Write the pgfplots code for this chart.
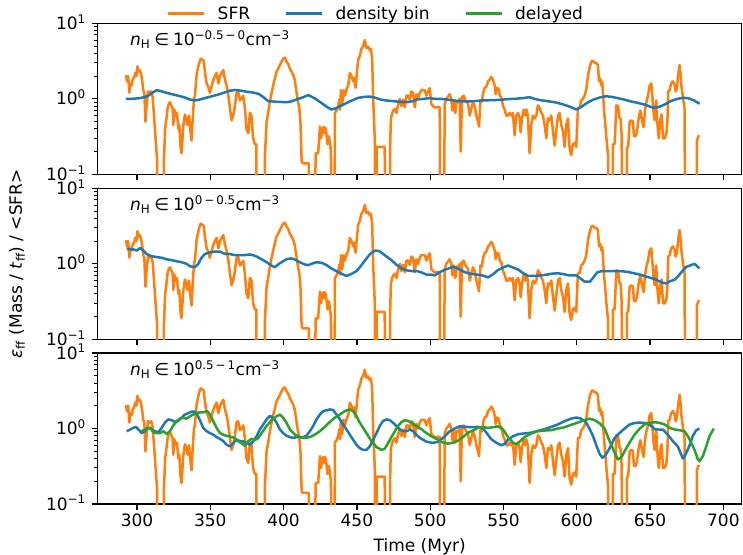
\documentclass[border=0pt]{standalone}
\usepackage{fontspec}
\setmainfont{DejaVu Sans}
\usepackage{pgfplots}
\usepackage{pgfplotstable}
\pgfplotsset{compat=1.18}

\definecolor{cblue}{HTML}{1F77B4}
\definecolor{corange}{HTML}{FF7F0E}
\definecolor{cgreen}{HTML}{2CA02C}

\tikzset{
  sfrline/.style={corange, line width=2.5pt, line join=round},
  denline/.style={cblue, line width=2.5pt, line join=round},
  delline/.style={cgreen, line width=2.5pt, line join=round},
}

% SFR (same curve in every panel); 0.001 stands for the drops below the axis
\pgfplotstableread{
t v
292.5 2.05
293.2 1.7
294.0 2.0
294.8 1.2
295.5 1.6
296.3 1.5
297.1 1.8
298.0 1.9
298.8 2.2
299.6 2.0
300.3 2.7
301.2 2.3
302.0 2.4
302.9 2.1
303.6 1.7
304.3 1.3
305.0 1.2
305.8 0.5
306.5 0.8
307.5 1.25
308.6 1.2
309.8 1.25
310.7 1.05
311.6 0.6
312.9 0.26
313.7 0.16
314.4 0.001
317.9 0.001
318.4 0.16
319.2 0.4
320.2 0.57
320.9 0.75
321.6 0.85
322.5 0.9
323.6 0.8
324.3 0.75
324.8 0.45
325.5 0.72
326.4 0.6
327.3 0.65
328.2 0.4
328.9 0.45
329.7 0.23
330.4 0.19
331.5 0.42
332.7 0.62
333.6 0.55
334.5 0.45
335.5 0.6
336.3 0.4
337.2 0.28
338.0 0.55
338.9 1.0
339.5 1.1
340.7 2.1
342.2 2.9
343.4 3.4
344.5 3.3
345.5 3.2
346.3 2.3
347.5 1.6
348.6 1.45
349.7 1.2
350.8 1.45
352.0 1.75
353.1 2.0
354.3 2.2
355.5 1.6
356.6 2.0
357.7 2.2
358.9 2.4
360.0 1.8
361.1 1.5
362.2 1.15
363.4 0.75
364.5 0.52
365.6 0.6
366.8 0.8
367.9 1.2
369.0 1.25
370.2 0.95
371.3 1.0
372.5 1.1
373.6 0.75
374.7 0.4
375.9 0.35
377.0 0.65
378.1 0.6
379.2 0.3
380.4 0.25
381.5 0.25
381.6 0.001
387.0 0.001
387.3 0.18
388.4 0.5
389.5 0.65
390.6 0.9
391.8 1.2
392.9 1.5
394.0 1.85
395.2 2.3
396.3 2.5
397.5 2.8
398.6 3.1
399.7 3.4
400.9 3.5
402.0 3.1
403.1 2.9
404.3 2.5
405.4 2.3
406.5 2.1
407.7 1.75
408.4 1.4
409.5 1.0
410.7 0.75
411.5 0.5
412.3 0.15
413.0 0.14
417.3 0.14
417.5 0.001
421.4 0.001
421.8 0.19
423.6 0.19
424.8 0.43
425.6 0.3
426.5 0.4
427.2 0.42
427.8 0.35
428.2 0.42
429.0 0.38
429.9 0.25
431.0 0.32
432.3 0.2
433.2 0.001
434.5 0.001
435.0 0.65
436.1 0.7
437.3 0.8
438.0 0.98
438.6 0.72
439.1 1.3
440.0 0.85
440.9 1.3
441.8 1.1
443.0 1.35
444.1 1.5
445.2 2.2
446.3 2.0
447.5 1.7
448.2 1.9
449.1 1.4
450.0 2.2
450.9 3.3
452.0 3.7
453.1 4.6
454.3 5.0
455.4 6.0
456.5 4.7
457.7 4.9
458.8 4.4
459.5 4.6
460.4 3.5
461.1 1.0
462.2 0.3
462.7 0.001
463.4 0.001
463.5 0.23
469.0 0.23
469.1 0.001
472.5 0.001
472.6 0.2
473.2 0.55
474.1 0.65
475.0 0.71
475.9 0.74
477.0 0.65
478.1 0.83
479.3 1.0
480.4 0.8
481.5 0.97
482.7 0.77
483.8 1.1
484.9 1.1
486.1 0.97
487.2 1.25
488.3 1.2
489.5 0.77
490.6 1.15
491.7 1.0
492.9 1.2
494.0 1.3
495.1 1.3
496.3 1.3
497.4 1.1
498.5 1.25
499.7 1.38
500.8 0.85
502.0 0.8
503.1 0.77
504.3 0.77
505.4 0.78
506.5 0.77
507.0 0.001
509.0 0.001
509.9 0.85
511.0 1.0
512.2 1.07
513.3 1.15
514.4 1.0
515.1 0.7
516.0 0.95
517.2 0.65
517.9 0.92
519.0 0.9
520.1 1.0
520.8 0.2
521.7 1.05
522.9 1.1
523.5 1.0
524.7 0.92
525.8 0.85
527.0 0.6
528.1 0.75
529.2 0.9
530.4 0.8
531.5 0.6
532.6 0.5
533.3 0.43
534.3 0.95
535.3 0.92
536.1 1.2
537.2 1.4
538.3 1.45
539.5 1.7
540.6 1.8
541.7 1.95
542.8 1.8
544.0 1.5
544.7 1.15
545.6 1.4
546.7 1.35
547.5 1.1
548.5 1.05
549.7 0.8
550.8 0.72
551.9 0.6
553.0 0.6
554.2 0.65
555.3 0.6
556.4 0.65
557.6 0.33
558.7 0.6
559.9 0.65
561.0 0.55
561.7 0.36
562.6 0.55
563.8 0.72
564.9 0.6
565.6 0.72
566.6 0.6
567.8 0.19
569.0 0.47
570.1 0.6
571.3 0.55
572.4 0.6
573.5 0.82
574.7 0.75
575.8 0.65
576.9 0.6
578.1 0.45
579.2 0.3
580.3 0.55
581.5 0.52
582.6 0.6
583.7 0.38
584.9 0.24
586.0 0.38
587.2 0.6
588.3 0.65
589.4 0.45
590.6 0.37
591.7 0.23
592.8 0.45
594.0 0.55
595.1 0.22
596.2 0.18
597.3 0.25
598.5 0.26
599.6 0.23
600.8 0.75
601.9 0.75
603.0 0.95
604.2 1.0
605.3 1.1
606.4 1.3
607.6 2.0
608.7 2.6
609.9 3.1
611.0 3.2
612.2 3.0
613.3 3.0
614.4 2.8
615.2 1.7
616.0 1.85
616.8 1.5
617.4 1.65
618.0 1.1
618.6 0.7
619.3 0.5
620.2 0.3
621.3 0.18
622.4 0.001
624.3 0.001
624.7 0.25
625.8 0.25
627.0 0.82
628.1 0.8
629.2 0.55
629.9 0.55
630.6 0.32
631.5 0.001
633.9 0.001
634.2 0.22
635.1 0.24
636.1 0.5
637.2 0.52
638.3 0.5
639.0 0.32
640.2 0.32
641.1 0.37
642.2 0.55
643.3 0.7
644.5 0.52
645.6 0.42
646.5 0.7
647.4 0.9
648.6 1.1
649.7 1.5
650.8 1.6
651.5 1.1
652.4 0.65
653.1 0.52
654.2 0.95
654.8 0.52
655.9 0.3
657.0 0.52
657.9 0.62
658.8 0.3
660.0 0.3
661.1 0.34
661.8 0.5
662.4 1.25
663.3 1.3
664.4 1.6
665.6 1.7
666.7 1.55
667.4 1.25
668.3 1.4
669.2 2.1
670.1 2.8
670.8 2.1
671.5 1.4
672.6 0.98
673.5 0.75
674.2 0.001
681.5 0.001
681.9 0.28
683.3 0.33
}\sfr

% density bin, panel 1
\pgfplotstableread{
t v
292.5 1.00
297 1.00
302 1.02
307 1.08
311 1.22
313.5 1.30
316 1.27
320 1.20
324 1.15
328 1.10
332 1.05
336 0.98
339.5 0.95
343 0.98
347 1.03
351 1.08
355 1.13
359 1.20
363.4 1.28
367 1.31
371 1.28
375 1.24
379 1.21
383 1.16
386 1.06
389.5 0.93
393 0.92
397 0.91
402 0.90
405 0.92
409 0.98
413.4 1.05
416.8 1.12
421 1.02
425.9 0.88
430 0.77
432.7 0.72
435 0.74
438 0.79
442 0.86
446 0.94
450.9 1.03
455 1.06
458.6 1.07
462 1.04
466 0.98
470 0.95
475 0.93
480 0.91
484 0.90
488 0.93
491 0.98
496 1.00
499.7 1.02
503 1.00
507 1.00
511 0.98
516 0.95
520 0.93
525 0.92
530 0.93
535 0.95
542.9 0.96
548 0.97
553 0.99
558 1.00
563 1.02
567.9 1.05
571 1.00
575 0.96
580 0.93
585 0.90
590 0.85
595 0.79
599.7 0.72
603 0.78
606.5 0.87
611 0.97
615.6 1.04
620 1.08
624 1.06
628 1.02
632 0.98
637.2 0.92
642 0.88
647 0.83
652 0.76
656 0.78
660 0.84
664 0.93
668 0.99
672.4 1.03
676 1.02
680 0.95
683.8 0.86
}\denA

% density bin, panel 2
\pgfplotstableread{
t v
293 1.58
297.5 1.55
300 1.50
302 1.62
304.3 1.50
306.6 1.35
309 1.28
311 1.25
313.4 1.23
317 1.20
320 1.15
323.6 1.12
327 1.08
330.4 1.05
333.8 1.00
336 0.93
339.5 0.90
341.8 1.00
344 1.20
346.3 1.35
350 1.42
353 1.45
356.6 1.45
360 1.35
363 1.35
366.8 1.30
370 1.30
373 1.30
377 1.33
379 1.30
381.6 1.25
385 1.15
388.4 1.05
391.6 0.95
394 0.90
396.3 0.98
398.6 1.05
402 1.15
405.4 1.18
408 1.13
411 1.05
414.5 0.98
417 0.96
419 1.00
422.4 1.05
426 1.03
429.3 0.96
433 0.86
436 0.80
439.5 0.74
442.9 0.69
446 0.73
449.7 0.80
452 0.90
455.4 1.10
459 1.35
462.2 1.50
465 1.48
468 1.35
470.2 1.25
474 1.10
477 0.97
480.4 0.87
483.8 0.82
488 0.80
491 0.80
494 0.77
497.4 0.72
500.8 0.72
503 0.70
505.4 0.75
508 0.80
512 0.86
515.6 0.91
518 0.88
521 0.82
524 0.77
527 0.74
532 0.72
536 0.70
539.5 0.66
543 0.73
546 0.82
549 0.88
553.1 0.95
556 0.90
560 0.84
563 0.76
566.7 0.69
570 0.69
575 0.70
580 0.72
583 0.74
587 0.75
591 0.73
595 0.70
599.7 0.70
603 0.63
605.3 0.58
609 0.58
611 0.65
614 0.77
617 0.80
620.1 0.80
625 0.80
630 0.80
635 0.78
639 0.75
643 0.72
648 0.67
653 0.63
658.7 0.56
661 0.55
663 0.58
667 0.62
669 0.68
671 0.76
674.6 0.91
678 0.96
680.3 1.00
682 0.93
683.7 0.87
}\denB

% density bin, panel 3
\pgfplotstableread{
t v
293 0.92
297.5 1.02
299.3 1.05
301 0.97
303.2 0.87
305.4 0.92
307.7 1.02
310 0.97
312.2 0.92
314.5 0.89
316.8 1.02
319 1.19
321.3 1.32
323.6 1.29
325.9 1.22
328.1 1.26
330.4 1.39
332.7 1.53
335 1.60
337.3 1.67
339.5 1.67
341.1 1.53
342.9 1.29
345.2 1.02
347.5 0.92
349.8 0.87
352 0.83
354.3 0.77
356.6 0.73
358.9 0.68
361.1 0.61
363.4 0.58
365.6 0.64
367.9 0.71
370.2 0.68
372.5 0.68
374.7 0.64
377 0.61
379.3 0.68
381.6 0.79
383.8 0.97
386.1 1.13
388.4 1.32
390.6 1.47
392.9 1.39
395.2 1.19
397.5 0.97
399.7 0.87
402 0.80
404.3 0.77
406.5 0.75
408.8 0.77
411.1 0.77
413.4 0.77
415.6 0.80
417.9 0.92
420.2 1.08
422.5 1.32
424.7 1.53
427 1.70
429.3 1.74
431.5 1.79
433.8 1.76
436.1 1.53
438.4 1.32
440.6 1.13
442.9 0.97
445.2 0.83
447.4 0.71
449.7 0.61
452 0.55
454.3 0.52
456.5 0.52
458.8 0.58
461.1 0.71
463.4 0.87
465.6 1.08
467.9 1.26
470.2 1.32
472.4 1.29
474.7 1.19
477 1.08
479.2 0.97
481.5 0.92
483.8 0.92
486.1 0.97
488.3 0.92
490.6 0.83
492.9 0.75
495.2 0.71
497.4 0.67
500.8 0.65
503 0.65
505.5 0.67
510 0.79
513.3 0.92
516.7 1.00
520.2 1.07
524.7 1.05
529.2 1.04
532.7 1.05
536 1.00
538.3 0.88
541.7 0.72
545 0.65
548.6 0.60
551 0.63
553 0.71
556.5 0.79
560 0.84
564 0.86
569 0.88
573.5 0.93
578 0.98
582.6 1.05
587 1.13
591.7 1.25
596 1.35
599.7 1.40
603 1.35
606.4 1.20
608.6 1.00
611 0.80
613.3 0.60
615.6 0.46
617.5 0.41
619.5 0.44
622.4 0.55
625.8 0.75
629.2 0.87
632.6 1.00
636 1.13
639.4 1.18
643 1.20
646.5 1.18
648.6 1.15
651 1.07
653 0.98
655.6 0.97
658.7 0.97
662 0.83
665.5 0.68
668.9 0.58
672.4 0.40
674.6 0.47
677 0.60
679.2 0.80
681.5 0.95
683.7 1.00
}\denC

% delayed, panel 3
\pgfplotstableread{
t v
303 0.92
305.4 0.97
307.7 1.02
309.3 1.02
311.1 0.89
313.4 0.87
315.7 0.87
318 0.92
320.2 0.85
322.5 0.92
324.8 1.10
327 1.25
329.3 1.35
331.6 1.39
333.8 1.35
336.1 1.45
338.4 1.53
340.7 1.60
343 1.64
345.2 1.64
347.9 1.70
349.8 1.53
352 1.25
354.3 1.02
356.6 0.87
360 0.81
363.4 0.78
366.8 0.75
369 0.68
371.3 0.64
373.6 0.59
375.9 0.68
378.1 0.73
380.4 0.70
382.7 0.75
385 0.87
388.4 1.08
391.8 1.29
395.2 1.45
397.5 1.53
399.7 1.39
402 1.19
404.3 0.97
407.7 0.83
411.1 0.77
414.5 0.75
417.9 0.77
421.3 0.83
424.7 0.92
428.1 1.05
431.5 1.22
434.9 1.39
438.3 1.53
441.8 1.70
445.2 1.79
447.4 1.70
449.7 1.47
452 1.19
454.3 1.02
456.5 0.87
459.9 0.68
463.3 0.57
466.8 0.52
469 0.54
471.3 0.64
473.6 0.77
475.9 0.92
478.1 1.08
480.4 1.22
482.7 1.29
485 1.26
487.2 1.19
490.6 1.08
494 0.98
496.3 0.90
500.8 0.79
505.4 0.71
508.8 0.65
512.2 0.63
515.6 0.65
519 0.69
522.4 0.77
525.8 0.88
529.2 0.94
532.7 1.02
536 1.04
539.5 1.02
542.9 1.04
546.3 1.07
549.7 0.97
553.1 0.77
556.5 0.65
558.8 0.62
561 0.67
564.4 0.77
569 0.86
573.5 0.92
578 0.94
582.6 0.95
587.2 1.00
591.7 1.04
596.2 1.12
600.8 1.20
605.3 1.29
608.8 1.35
612.2 1.29
615.6 1.17
619 1.00
622.4 0.68
625.8 0.48
628 0.39
630.3 0.41
632.6 0.50
636 0.65
639.4 0.83
642.8 0.99
646.2 1.13
649.7 1.19
653.1 1.21
656.5 1.19
659.9 1.13
663.3 1.02
666.7 0.97
670.1 0.95
673.5 0.92
675.8 0.79
678 0.65
680.3 0.52
682.6 0.39
683.7 0.37
686 0.43
688.3 0.58
690.5 0.79
693.5 1.00
}\delC

\pgfplotsset{every axis/.append style={
    scale only axis, width=644pt, height=151pt,
    xmin=273.2, xmax=712.5,
    ymin=0.1, ymax=10,
    xtick={300,350,...,700},
    ytick={0.1,1,10},
    minor ytick={0.2,0.3,0.4,0.5,0.6,0.7,0.8,0.9,2,3,4,5,6,7,8,9},
    yticklabels={10\textsuperscript{−1},10\textsuperscript{0},10\textsuperscript{1}},
    yticklabel style={inner sep=0pt, text height=12.4pt, text depth=0pt, xshift=-5.7pt},
    tick align=outside, xtick pos=left, ytick pos=left,
    major tick length=6pt, minor tick length=3.4pt,
    major tick style={black, line width=1.3pt},
    minor tick style={black, line width=1pt},
    axis line style={line width=1.3pt},
}}

\begin{document}
\begin{tikzpicture}[font=\fontsize{17}{20}\selectfont]
\useasboundingbox (-97.7pt,-50pt) rectangle (645.3pt,504pt);

\begin{semilogyaxis}[at={(0pt,329.7pt)}, xticklabels={},
    legend columns=3,
    legend image code/.code={\draw[#1] (0pt,6.2pt) -- (36pt,6.2pt); \path (48pt,6.2pt);},
    legend style={draw=none, fill=none, inner sep=0pt,
      at={(0.4306,1.0616)}, anchor=center,
      nodes={inner sep=0pt, anchor=base west},
      /tikz/every even column/.append style={column sep=35pt}}]
\addplot[sfrline] table {\sfr};
\addplot[denline] table {\denA};
\addlegendimage{delline}
\legend{SFR, density bin, delayed}
\node[anchor=base west, inner sep=0pt] at (rel axis cs:0.05,0.85)
  {\textit{n}\textsubscript{H}\hspace{4pt}∈\hspace{4pt}10\textsuperscript{−0.5\,−\,0}cm\textsuperscript{−3}};
\end{semilogyaxis}

\begin{semilogyaxis}[at={(0pt,164.7pt)}, xticklabels={}]
\addplot[sfrline] table {\sfr};
\addplot[denline] table {\denB};
\node[anchor=base west, inner sep=0pt] at (rel axis cs:0.05,0.85)
  {\textit{n}\textsubscript{H}\hspace{4pt}∈\hspace{4pt}10\textsuperscript{0\,−\,0.5}cm\textsuperscript{−3}};
\end{semilogyaxis}

\begin{semilogyaxis}[at={(0pt,0pt)},
    xticklabels={300,350,400,450,500,550,600,650,700},
    xlabel={Time (Myr)},
    every axis x label/.style={at={(axis description cs:0.5,0)}, anchor=base, yshift=-47pt}]
\addplot[sfrline] table {\sfr};
\addplot[denline] table {\denC};
\addplot[delline] table {\delC};
\node[anchor=base west, inner sep=0pt] at (rel axis cs:0.05,0.85)
  {\textit{n}\textsubscript{H}\hspace{4pt}∈\hspace{4pt}10\textsuperscript{0.5\,−\,1}cm\textsuperscript{−3}};
\end{semilogyaxis}

\node[rotate=90, anchor=center] at (-80.7pt,240.2pt)
  {\textit{ε}\textsubscript{ff} (Mass / \textit{t}\textsubscript{ff}) / <SFR>};
\end{tikzpicture}
\end{document}
